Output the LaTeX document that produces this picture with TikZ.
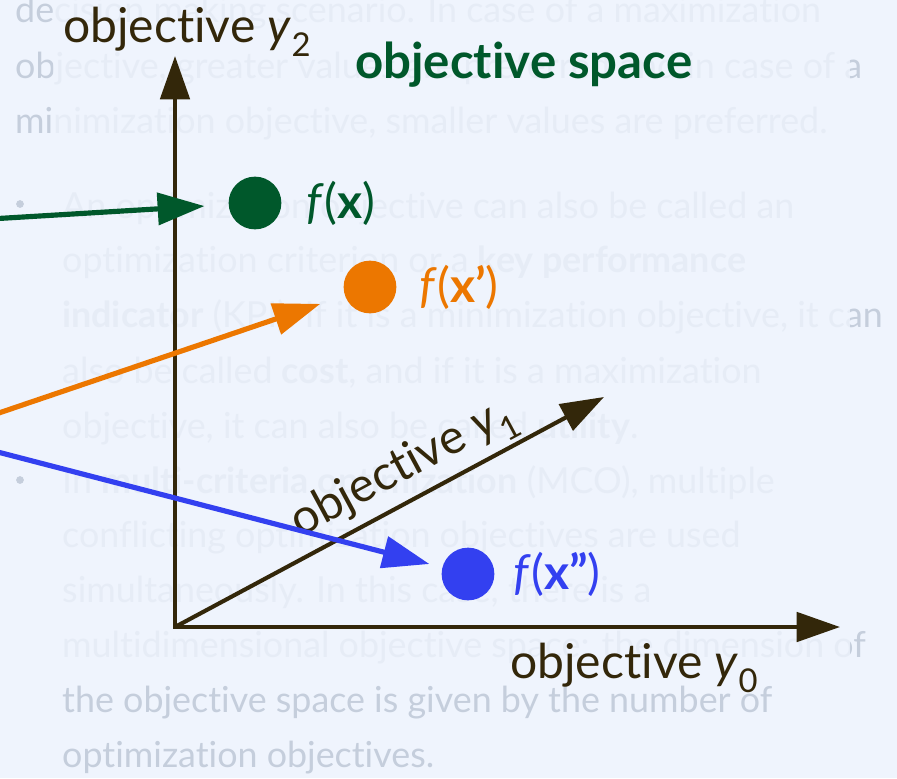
\documentclass[tikz,border=0pt]{standalone}
\usepackage{fontspec}
\setmainfont{Lato}[Ligatures={TeX,NoCommon}]
\usetikzlibrary{arrows.meta,positioning}
\definecolor{pagebg}{HTML}{EFF4FD}
\definecolor{slidegray}{HTML}{C5CEDC}
\definecolor{axisbrown}{HTML}{33270A}
\definecolor{solgreen}{HTML}{00582B}
\definecolor{solorange}{HTML}{EC7700}
\definecolor{solblue}{HTML}{3340F0}
\newcommand{\objy}[1]{objective \textit{y}\raisebox{-0.3em}{\fontsize{28}{30}\selectfont #1}}
\tikzset{
  every picture/.style={line join=round, >=Stealth},
  axistip/.tip={Triangle[length=37pt,width=25pt]},
  maptip/.tip={Triangle[length=40pt,width=27pt]},
  slidetext/.style={anchor=base west, inner sep=0pt, text=slidegray, font=\fontsize{30.6}{34}\selectfont},
  axis/.style={draw=axisbrown, line width=3.5pt, line join=miter},
  axislabel/.style={text=axisbrown, inner sep=0pt, font=\fontsize{41}{48}\selectfont},
  solution/.style={circle, fill=#1, minimum size=45pt, inner sep=0pt},
  sollabel/.style={text=#1, inner sep=0pt, font=\fontsize{41}{46}\selectfont},
  maparrow/.style={draw=#1, line width=4.4pt, -maptip},
}
\begin{document}
\begin{tikzpicture}[x=0.03cm,y=-0.03cm]
\useasboundingbox (0,0) rectangle (897,778);
\clip (0,0) rectangle (897,778);
\fill[pagebg] (0,0) rectangle (897,778);
\foreach \x/\y/\t [count=\i] in {
  15/22/{decision making scenario. In case of a maximization},
  15/78/{objective, greater values are preferred and in case of a},
  15/133/{minimization objective, smaller values are preferred.},
  62/218/{An optimization objective can also be called an},
  62/272/{optimization criterion or a \textbf{key performance}},
  62/327/{\textbf{indicator} (KPI). If it is a minimization objective, it can},
  62/383/{also be called \textbf{cost}, and if it is a maximization},
  62/438/{objective, it can also be called \textbf{utility}.},
  62/493/{In \textbf{multi-criteria optimization} (MCO), multiple},
  62/547/{conflicting optimization objectives are used},
  62/602/{simultaneously. In this case, there is a},
  62/657/{multidimensional objective space: the dimension of},
  62/712/{the objective space is given by the number of},
  62/767/{optimization objectives.}}
  \node[slidetext] (slide\i) at (\x,\y) {\t};
\fill[slidegray] (20,204) circle (3.3pt) (20,480) circle (3.3pt);
\fill[pagebg,opacity=0.8] (53,-5) rectangle (850,680);

\coordinate (O) at (175,627);
\coordinate (y0tip) at (840,627);
\coordinate (y1tip) at (604,397);
\coordinate (y2tip) at (175,56);
\draw[axis,-axistip] (O) -- (y1tip);
\draw[axis,axistip-axistip] (y2tip) -- (O) -- (y0tip);
\node[axislabel, anchor=base west] (y2label) at (63,42) {\objy{2}};
\node[axislabel, anchor=base west] (y0label) at (510,678) {\objy{0}};
\node[axislabel, rotate=28.3] (y1label) at (404,470) {\objy{1}};
\node[anchor=base west, inner sep=0pt, text=solgreen, font=\bfseries\fontsize{42}{46}\selectfont] (title) at (355,78) {objective space};

\node[solution=solgreen] (gdot) at (255,203) {};
\node[solution=solorange] (odot) at (370,287) {};
\node[solution=solblue] (bdot) at (468,574) {};
\node[sollabel=solgreen, right=0.75cm of gdot] (glabel) {\textit{f}(\textbf{x})};
\node[sollabel=solorange, right=0.68cm of odot] (olabel) {\textit{f}(\textbf{x'})};
\node[sollabel=solblue, right=0.56cm of bdot] (blabel) {\textit{f}(\textbf{x''})};

\coordinate (gsrc) at (-10,219);
\coordinate (osrc) at (-10,416);
\coordinate (bsrc) at (-10,450);
\draw[maparrow=solgreen, shorten >=0.72cm] (gsrc) -- (gdot);
\draw[maparrow=solorange, shorten >=0.78cm] (osrc) -- (odot);
\draw[maparrow=solblue, shorten >=0.4cm] (bsrc) -- (bdot);
\end{tikzpicture}
\end{document}
